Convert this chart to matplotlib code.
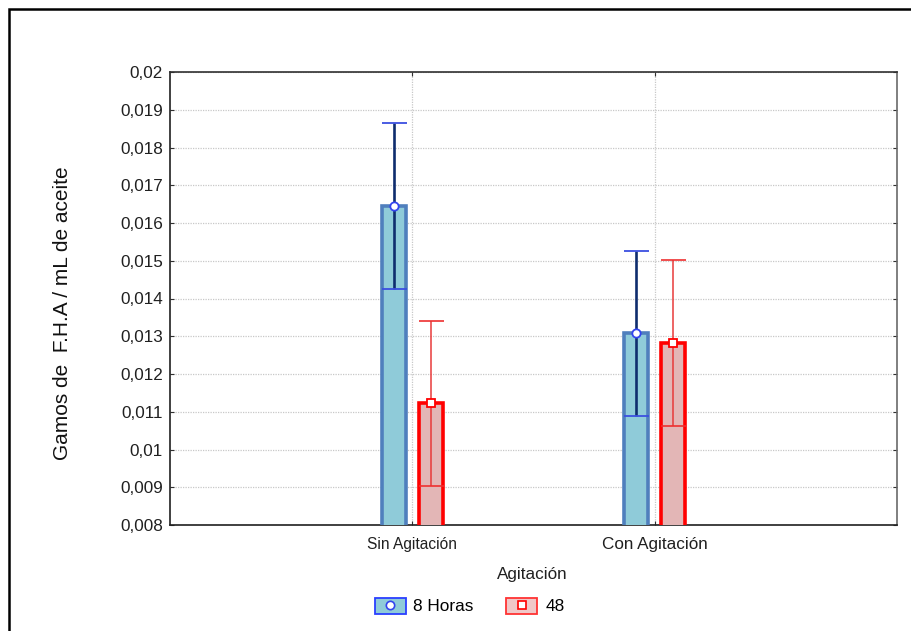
import numpy as np
import matplotlib
matplotlib.use("Agg")
import matplotlib.pyplot as plt
from matplotlib.patches import Rectangle, Patch
from matplotlib.lines import Line2D

plt.rcParams['font.family'] = ['Liberation Sans', 'DejaVu Sans']

# data
categorias = ['Sin Agitación', 'Con Agitación']
media_8h = [0.01645, 0.01308]
err_8h = [0.00220, 0.00218]
media_48 = [0.01122, 0.01283]
err_48 = [0.00218, 0.00220]
yticks = [0.008, 0.009, 0.010, 0.011, 0.012, 0.013, 0.014, 0.015, 0.016, 0.017, 0.018, 0.019, 0.020]
ytick_labels = ['0,008', '0,009', '0,01', '0,011', '0,012', '0,013', '0,014',
                '0,015', '0,016', '0,017', '0,018', '0,019', '0,02']

fig = plt.figure(figsize=(9.12, 6.31), dpi=100)
ax = fig.add_axes([170/912, 1-525/631, 727/912, 453/631])

x = np.arange(1, len(categorias)+1)
off = 0.076
w = 0.1

ax.bar(x-off, media_8h, width=w, color='#8fcbd9', edgecolor='#4f7fbd', linewidth=2.6, zorder=3)
ax.bar(x+off, media_48, width=w, color='#e3b6b6', edgecolor='#ff0000', linewidth=2.6, zorder=3)

# 8 horas: barra de error gruesa azul oscuro
ax.errorbar(x-off, media_8h, yerr=err_8h, fmt='none', ecolor='#0f2d6e', elinewidth=1.9,
            capsize=0, zorder=4)
for xi, m, e in zip(x-off, media_8h, err_8h):
    ax.plot([xi, xi], [m+e, m-e], ls='none', marker='_', ms=18, mew=1.3, color='#3b4fe0', zorder=5)
ax.plot(x-off, media_8h, ls='none', marker='o', ms=6, mfc='white', mec='#3344ee', mew=1.3, zorder=6)

# 48: barra de error fina roja
ax.errorbar(x+off, media_48, yerr=err_48, fmt='none', ecolor='#e83a3a', elinewidth=1.1,
            capsize=0, zorder=4)
for xi, m, e in zip(x+off, media_48, err_48):
    ax.plot([xi, xi], [m+e, m-e], ls='none', marker='_', ms=18, mew=1.2, color='#ee3030', zorder=5)
ax.plot(x+off, media_48, ls='none', marker='s', ms=6, mfc='white', mec='#ff0000', mew=1.3, zorder=6)

ax.set_xlim(0, 3)
ax.set_ylim(0.008, 0.020)
ax.set_yticks(yticks)
ax.set_yticklabels(ytick_labels, fontsize=12.3, color='#202020')
ax.set_xticks(x)
ax.set_xticklabels(categorias)
xl = ax.get_xticklabels()
xl[0].set_fontsize(11.2)
xl[1].set_fontsize(12.3)
ax.tick_params(axis='y', direction='in', length=3, pad=5, right=True, colors='#303030', labelcolor='#202020')
ax.tick_params(axis='x', direction='in', length=3, pad=9, top=True, colors='#303030', labelcolor='#202020')

ax.grid(True, color='#c8c8c8', linestyle=(0, (1, 1)), linewidth=0.9, zorder=0)
ax.set_axisbelow(True)
ax.spines['left'].set_color('#202020')
ax.spines['bottom'].set_color('#202020')
ax.spines['top'].set_color('#303030')
ax.spines['right'].set_color('#6a6a6a')
for s in ax.spines.values():
    s.set_linewidth(1.2)

fig.text(63/912, 1-313/631, 'Gamos de  F.H.A / mL de aceite', rotation=90,
         ha='center', va='center', fontsize=15, color='#111111')
fig.text(532/912, 1-575/631, 'Agitación', ha='center', va='center', fontsize=12.3, color='#202020')

h1 = (Patch(facecolor='#8fcbd9', edgecolor='#2a3fff', linewidth=1.3),
      Line2D([], [], ls='none', marker='o', ms=6, mfc='white', mec='#3344ee', mew=1.2))
h2 = (Patch(facecolor='#f0c8c8', edgecolor='#ff3333', linewidth=1.3),
      Line2D([], [], ls='none', marker='s', ms=6, mfc='white', mec='#ff0000', mew=1.2))
fig.legend([h1, h2], ['8 Horas', '48'], loc='center', bbox_to_anchor=(469.5/912, 1-606/631),
           ncol=2, frameon=False, fontsize=12.4, handlelength=1.8, handleheight=1.05,
           handletextpad=0.45, columnspacing=1.9)

# marco exterior negro
fig.add_artist(Rectangle((9/912, -0.2), 1.5, (1-9/631)+0.2, transform=fig.transFigure,
                         fill=False, edgecolor='black', linewidth=1.8))

fig.savefig('out.png', dpi=100)
